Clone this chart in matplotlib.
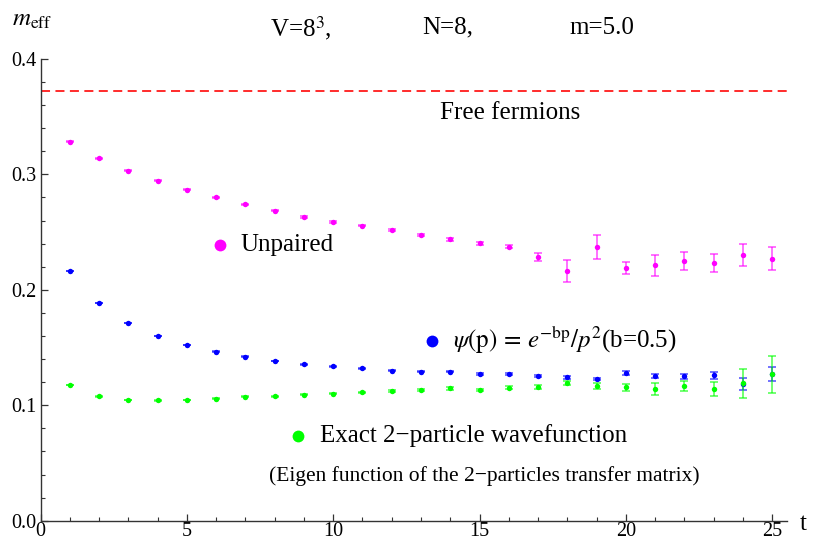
import numpy as np
import matplotlib
matplotlib.use("Agg")
import matplotlib.pyplot as plt
from matplotlib.ticker import MultipleLocator

plt.rcParams['font.family'] = ['Liberation Serif', 'DejaVu Serif']
plt.rcParams['mathtext.fontset'] = 'stix'

t = np.arange(1, 26)

# effective mass, unpaired operator
m_unpaired = [0.3285, 0.3140, 0.3033, 0.2944, 0.2866, 0.2800, 0.2742, 0.2684,
              0.2632, 0.2589, 0.2557, 0.2522, 0.2473, 0.2439, 0.2404, 0.2375,
              0.2286, 0.2162, 0.2372, 0.2190, 0.2211, 0.2251, 0.2234, 0.2303,
              0.2271]
e_unpaired = [0.0005, 0.0005, 0.0005, 0.0005, 0.0005, 0.0005, 0.0005, 0.0005,
              0.0006, 0.0006, 0.0007, 0.0008, 0.0010, 0.0012, 0.0014, 0.0016,
              0.0035, 0.0095, 0.0107, 0.0050, 0.0095, 0.0080, 0.0080, 0.0095,
              0.0100]

# psi(p) = exp(-bp)/p^2 trial wavefunction
m_psi = [0.2162, 0.1885, 0.1714, 0.1599, 0.1521, 0.1463, 0.1420, 0.1383,
         0.1356, 0.1336, 0.1319, 0.1301, 0.1290, 0.1290, 0.1270, 0.1270,
         0.1255, 0.1241, 0.1227, 0.1279, 0.1255, 0.1250, 0.1258, 0.1183,
         0.1270]
e_psi = [0.0003, 0.0003, 0.0003, 0.0003, 0.0003, 0.0003, 0.0003, 0.0003,
         0.0003, 0.0004, 0.0004, 0.0004, 0.0005, 0.0005, 0.0006, 0.0007,
         0.0008, 0.0010, 0.0010, 0.0015, 0.0015, 0.0020, 0.0030, 0.0050,
         0.0060]

# exact 2-particle wavefunction
m_exact = [0.1175, 0.1077, 0.1045, 0.1042, 0.1045, 0.1056, 0.1074, 0.1080,
           0.1091, 0.1102, 0.1111, 0.1123, 0.1131, 0.1146, 0.1131, 0.1152,
           0.1160, 0.1192, 0.1169, 0.1158, 0.1140, 0.1166, 0.1140, 0.1189,
           0.1270]
e_exact = [0.0003, 0.0003, 0.0003, 0.0003, 0.0003, 0.0003, 0.0003, 0.0004,
           0.0004, 0.0005, 0.0005, 0.0006, 0.0007, 0.0010, 0.0010, 0.0012,
           0.0015, 0.0020, 0.0025, 0.0030, 0.0053, 0.0040, 0.0060, 0.0125,
           0.0160]

free_fermions = 0.3725

MAGENTA = (1, 0, 1)
BLUE = (0, 0, 1)
GREEN = (0, 1, 0)

fig = plt.figure(figsize=(8.15, 5.41), dpi=100)
ax = fig.add_axes([0.0499, 0.0375, 0.9154, 0.8535])

ax.axhline(free_fermions, color=(1, 0.1, 0.1), lw=1.3, ls=(0, (5, 3)))

for m, e, c in [(m_unpaired, e_unpaired, MAGENTA),
                (m_psi, e_psi, BLUE),
                (m_exact, e_exact, GREEN)]:
    ax.errorbar(t, m, yerr=e, fmt='none', ecolor=c + (0.7,),
                elinewidth=1.1, capsize=2.6, capthick=1.1)
    ax.plot(t, m, 'o', color=c, ms=3.9, markeredgecolor='none')

# in-plot labels
ax.plot([6.13], [0.2389], 'o', color=MAGENTA, ms=8.5, markeredgecolor='none')
ax.text(6.82, 0.2389, 'Unpaired', fontsize=18, va='center', ha='left')

ax.plot([13.37], [0.1557], 'o', color=BLUE, ms=8.5, markeredgecolor='none')
ax.text(14.09, 0.1565, r'$\psi(\mathrm{p})\,=\,e^{-\mathrm{bp}}/p^2$(b=0.5)',
        fontsize=18, va='center', ha='left')

ax.plot([8.79], [0.0734], 'o', color=GREEN, ms=8.5, markeredgecolor='none')
ax.text(9.55, 0.0734, 'Exact 2\u2212particle wavefunction', fontsize=18,
        va='center', ha='left')
ax.text(15.15, 0.0385, '(Eigen function of the 2\u2212particles transfer matrix)',
        fontsize=15.5, va='center', ha='center')

ax.text(16.04, 0.353, 'Free fermions', fontsize=18, va='center', ha='center')

# header
ax.text(7.84, 0.427, r'V=8$^3$,', fontsize=18, va='center', ha='left', clip_on=False)
ax.text(13.03, 0.427, 'N=8,', fontsize=18, va='center', ha='left', clip_on=False)
ax.text(18.09, 0.427, 'm=5.0', fontsize=18, va='center', ha='left', clip_on=False)

fig.text(0.015, 0.963, r'$m_{\mathrm{eff}}$', fontsize=18, va='center', ha='left')
fig.text(0.985, 0.032, 't', fontsize=18, va='center', ha='center')

ax.set_xlim(0, 25.5)
ax.set_ylim(0, 0.4)
ax.spines['top'].set_visible(False)
ax.spines['right'].set_visible(False)
for s in ['left', 'bottom']:
    ax.spines[s].set_linewidth(1.0)
    ax.spines[s].set_color('#333333')

ax.xaxis.set_major_locator(MultipleLocator(5))
ax.xaxis.set_minor_locator(MultipleLocator(1))
ax.yaxis.set_major_locator(MultipleLocator(0.1))
ax.yaxis.set_minor_locator(MultipleLocator(0.02))
ax.set_yticks([0.0, 0.1, 0.2, 0.3, 0.4])
ax.set_yticklabels(['0.0', '0.1', '0.2', '0.3', '0.4'])
ax.tick_params(which='major', direction='in', length=5, width=0.9,
               labelsize=14.5, pad=2, color='#333333')
ax.tick_params(which='minor', direction='in', length=3, width=0.8, color='#333333')
ax.tick_params(axis='x', which='both', pad=1)
ax.tick_params(axis='y', which='major', pad=3)

fig.savefig('out.png', dpi=100)
